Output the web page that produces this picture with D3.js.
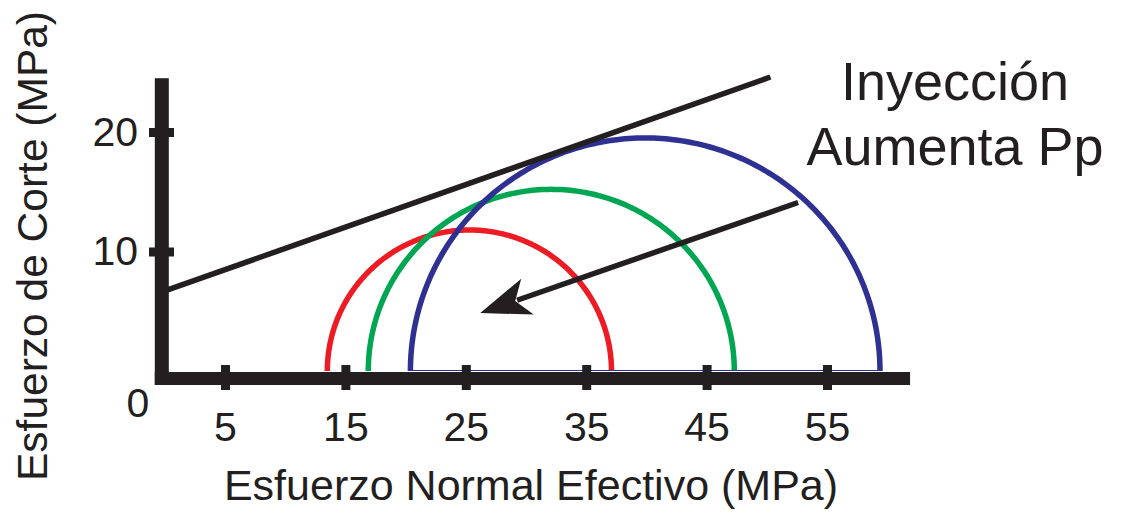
<!DOCTYPE html>
<html>
<head>
<meta charset="utf-8">
<script src="https://cdn.jsdelivr.net/npm/d3@7"></script>
<style>
  body { margin: 0; background: #fff; }
  text { font-family: 'Liberation Sans', Arial, Helvetica, sans-serif; fill: #231f20; }
</style>
</head>
<body>
<svg id="mohr"></svg>
<script>
var width = 1143,
    height = 517,
    ink = '#231f20';

// values (MPa)
var xTicks = [5, 15, 25, 35, 45, 55];
var yTicks = [10, 20];
var circleNames = ['antes', 'intermedio', 'inicial'];
var circleCenters = [25.3, 32.1, 39.9];
var circleRadii = [11.8, 15.2, 19.5];
var failureLine = [[0, 6.7], [50.3, 24.6]];
var arrowFrom = [52.6, 14.1],
    arrowTo = [26.2, 4.85];
var titleLines = ['Inyección', 'Aumenta Pp'];
var xLabel = 'Esfuerzo Normal Efectivo (MPa)',
    yLabel = 'Esfuerzo de Corte (MPa)';

var circleColors = ['#ed1c24', '#00a651', '#2e3192'];

var x = d3.scaleLinear().domain([5, 55]).range([225, 827]),
    y = d3.scaleLinear().domain([0, 20]).range([371, 132]);

var svg = d3.select('#mohr')
  .attr('width', width)
  .attr('height', height);

// mohr circles (upper halves)
var arc = d3.line()
  .x(function(d) { return x(d.c + d.r * Math.cos(d.t)); })
  .y(function(d) { return y(d.r * Math.sin(d.t)); });

circleCenters.forEach(function(c, i) {
  var r = circleRadii[i];
  var pts = d3.range(0, 181, 1).map(function(a) {
    return {c: c, r: r, t: a * Math.PI / 180};
  });
  svg.append('path')
    .attr('class', 'circle ' + circleNames[i])
    .attr('d', arc(pts))
    .attr('fill', 'none')
    .attr('stroke', circleColors[i])
    .attr('stroke-width', 5.5);
});

// thin base of the blue circle
svg.append('line')
  .attr('x1', x(circleCenters[2] - circleRadii[2]))
  .attr('x2', x(circleCenters[2] + circleRadii[2]))
  .attr('y1', y(0) - 0.5)
  .attr('y2', y(0) - 0.5)
  .attr('stroke', circleColors[2])
  .attr('stroke-width', 1.2);

// failure envelope
svg.append('line')
  .attr('x1', x(failureLine[0][0]))
  .attr('y1', y(failureLine[0][1]))
  .attr('x2', x(failureLine[1][0]))
  .attr('y2', y(failureLine[1][1]))
  .attr('stroke', ink)
  .attr('stroke-width', 5.5);

// arrow
var ax0 = x(arrowFrom[0]), ay0 = y(arrowFrom[1]),
    ax1 = x(arrowTo[0]), ay1 = y(arrowTo[1]);
var dx = ax1 - ax0, dy = ay1 - ay0,
    len = Math.sqrt(dx * dx + dy * dy),
    ux = dx / len, uy = dy / len,
    nx = -uy, ny = ux;
var headLen = 50, headHalf = 19, notch = 37;
svg.append('line')
  .attr('x1', ax0).attr('y1', ay0)
  .attr('x2', ax1 - ux * (notch + 2)).attr('y2', ay1 - uy * (notch + 2))
  .attr('stroke', ink)
  .attr('stroke-width', 5.5);
svg.append('path')
  .attr('d', 'M' + ax1 + ',' + ay1 +
    'L' + (ax1 - ux * headLen + nx * headHalf) + ',' + (ay1 - uy * headLen + ny * headHalf) +
    'L' + (ax1 - ux * notch) + ',' + (ay1 - uy * notch) +
    'L' + (ax1 - ux * headLen - nx * headHalf) + ',' + (ay1 - uy * headLen - ny * headHalf) + 'Z')
  .attr('fill', ink);

// axes
var xAxis = svg.append('g')
  .attr('transform', 'translate(0,365)')
  .call(d3.axisBottom(x).tickValues(xTicks).tickSize(25).tickPadding(22));
var yAxis = svg.append('g')
  .attr('transform', 'translate(174,0)')
  .call(d3.axisLeft(y).tickValues(yTicks).tickSize(25).tickPadding(11));

[xAxis, yAxis].forEach(function(g) {
  g.select('.domain').remove();
  g.selectAll('.tick line').attr('stroke', ink).attr('stroke-width', 9);
  g.selectAll('.tick text')
    .attr('fill', ink)
    .style('font-size', '41px')
    .style('font-family', "'Liberation Sans', Arial, sans-serif");
});

// heavy axis bars
svg.append('rect')
  .attr('x', x(0) - 10).attr('y', y(24.5))
  .attr('width', 14).attr('height', y(0) + 14 - y(24.5))
  .attr('fill', ink);
svg.append('rect')
  .attr('x', x(0) - 10).attr('y', y(0) + 1)
  .attr('width', x(61.9) - x(0) + 10).attr('height', 13)
  .attr('fill', ink);

// zero label at the corner
svg.append('text')
  .attr('x', 138).attr('y', 417)
  .attr('text-anchor', 'middle')
  .style('font-size', '41px')
  .text('0');

// axis titles
svg.append('text')
  .attr('x', 531).attr('y', 500)
  .attr('text-anchor', 'middle')
  .style('font-size', '43px')
  .text(xLabel);

svg.append('text')
  .attr('transform', 'translate(47,246) rotate(-90)')
  .attr('text-anchor', 'middle')
  .style('font-size', '42.5px')
  .text(yLabel);

// annotation
svg.append('g')
  .selectAll('text')
  .data(titleLines)
  .enter().append('text')
  .attr('x', 955)
  .attr('y', function(d, i) { return 100 + i * 65; })
  .attr('text-anchor', 'middle')
  .style('font-size', '54px')
  .text(function(d) { return d; });
</script>
</body>
</html>
